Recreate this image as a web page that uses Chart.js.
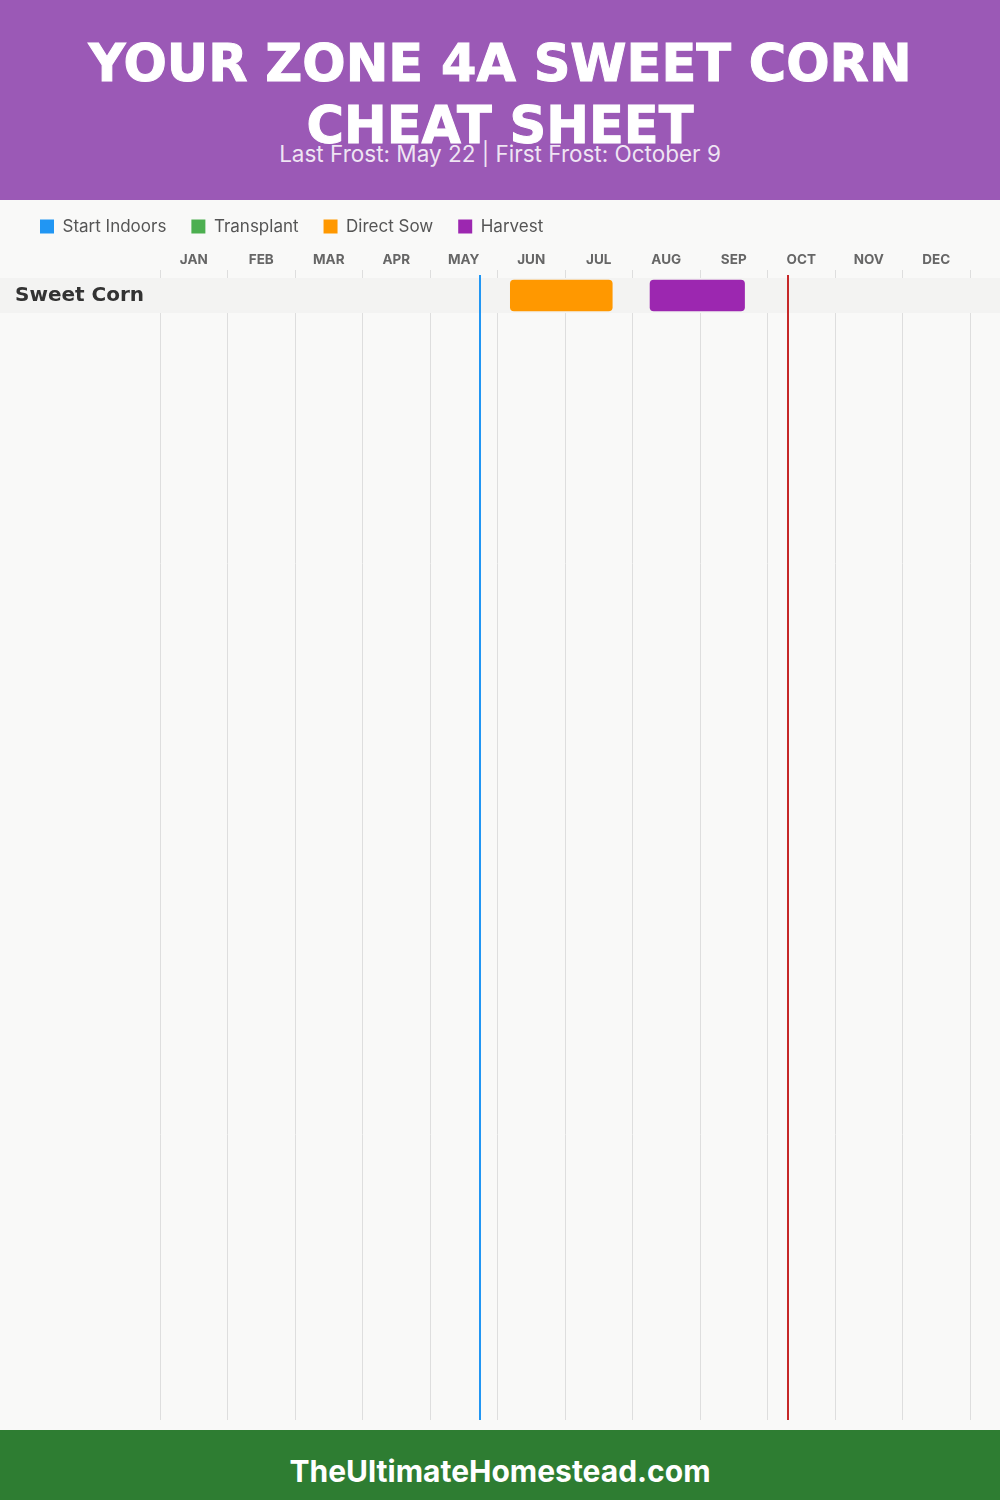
<!DOCTYPE html>
<html>
<head>
<meta charset="utf-8">
<script src="https://cdn.jsdelivr.net/npm/chart.js@4.4.1/dist/chart.umd.min.js"></script>
<style>
  html, body { margin:0; padding:0; }
  body { width:1000px; height:1500px; position:relative; background:#f9f9f8; overflow:hidden; font-family:"Inter", "DejaVu Sans", sans-serif; }
  #header { position:absolute; top:0; left:0; width:1000px; height:200px; background:#9b59b6; z-index:2; }
  #title { position:absolute; top:33px; left:0; width:1000px; text-align:center; color:#fff;
           font-family:"DejaVu Sans", sans-serif; font-weight:bold; font-size:51px; line-height:62px;
           -webkit-text-stroke:1px #fff; }
  #sub { position:absolute; top:141px; left:0; width:1000px; text-align:center; color:rgba(255,255,255,0.85);
         font-family:"Inter", sans-serif; font-size:22.5px; line-height:26px; }
  #wrap { position:absolute; top:193px; left:0; width:1000px; height:1237px; z-index:1; }
  #footer { position:absolute; top:1430px; left:0; width:1000px; height:70px; background:#2e7d32; color:#fff;
            text-align:center; font-family:"Inter", sans-serif; font-weight:bold; font-size:30px; line-height:82px; z-index:2; overflow:hidden; }
</style>
</head>
<body>
<div id="header">
  <div id="title">YOUR ZONE 4A SWEET CORN<br>CHEAT SHEET</div>
  <div id="sub">Last Frost: May 22 | First Frost: October 9</div>
</div>
<div id="wrap"><canvas id="c" width="1000" height="1237"></canvas></div>
<div id="footer">TheUltimateHomestead.com</div>
<script>
// ---- data (months measured from Jan 1 = 0 to Dec 31 = 12) ----
const MONTHS = ['JAN','FEB','MAR','APR','MAY','JUN','JUL','AUG','SEP','OCT','NOV','DEC'];
const CROPS = ['Sweet Corn'];
const SERIES_NAMES = ['Start Indoors','Transplant','Direct Sow','Harvest'];
const START_INDOORS = [null];
const TRANSPLANT = [null];
const DIRECT_SOW = [[5.19, 6.70]];
const HARVEST = [[7.26, 8.66]];
const LAST_FROST = 4.74;   // May 22
const FIRST_FROST = 9.30;  // October 9

const COLORS = ['#2196F3','#4CAF50','#FF9800','#9C27B0'];
const FONT = '"Inter", "DejaVu Sans", sans-serif';

function toPoints(arr) {
  return arr.map((r, i) => r ? { x: r, y: i + 0.5 } : null).filter(p => p);
}

const tickValues = [];
for (let i = 0; i <= MONTHS.length; i++) {
  tickValues.push(i);
  if (i < MONTHS.length) tickValues.push(i + 0.5);
}

const decorPlugin = {
  id: 'decor',
  beforeDatasetsDraw(chart) {
    const { ctx, scales: { x, y }, chartArea } = chart;
    ctx.save();
    CROPS.forEach((c, i) => {
      const t = y.getPixelForValue(i), b = y.getPixelForValue(i + 1);
      ctx.fillStyle = '#f3f3f2';
      ctx.fillRect(0, t, chart.width, b - t);
    });
    [[LAST_FROST, '#2196F3'], [FIRST_FROST, '#c62828']].forEach(([v, col]) => {
      const px = Math.round(x.getPixelForValue(v));
      ctx.strokeStyle = col;
      ctx.lineWidth = 2;
      ctx.beginPath();
      ctx.moveTo(px, chartArea.top - 3);
      ctx.lineTo(px, chartArea.bottom);
      ctx.stroke();
    });
    ctx.restore();
  }
};

const dataSets = [START_INDOORS, TRANSPLANT, DIRECT_SOW, HARVEST].map((arr, k) => ({
  label: SERIES_NAMES[k],
  data: toPoints(arr),
  backgroundColor: COLORS[k],
  borderWidth: 0,
  borderRadius: 4,
  borderSkipped: false,
  barThickness: 31,
  grouped: false
}));

new Chart(document.getElementById('c'), {
  type: 'bar',
  data: { datasets: dataSets },
  plugins: [decorPlugin],
  options: {
    indexAxis: 'y',
    responsive: false,
    animation: false,
    layout: { padding: { left: 15, right: 30, top: 0, bottom: 10 } },
    plugins: {
      tooltip: { enabled: false },
      legend: {
        position: 'top',
        align: 'start',
        labels: {
          boxWidth: 14, boxHeight: 14, padding: 25,
          color: '#555',
          font: { family: FONT, size: 17 }
        }
      }
    },
    scales: {
      x: {
        type: 'linear', position: 'top', min: 0, max: MONTHS.length,
        afterBuildTicks: s => { s.ticks = tickValues.map(v => ({ value: v })); },
        afterFit: s => { s.height = 33; },
        ticks: {
          autoSkip: false, maxRotation: 0, padding: 2,
          color: '#666',
          font: { family: FONT, size: 13.5, weight: 'bold' },
          callback: v => Number.isInteger(v) ? '' : MONTHS[Math.floor(v)]
        },
        grid: {
          color: c => (c.tick && Number.isInteger(c.tick.value)) ? '#dedede' : 'rgba(0,0,0,0)',
          tickLength: 8,
          lineWidth: 1
        },
        border: { display: false }
      },
      y: {
        type: 'linear', reverse: true, min: 0, max: 32.63,
        offset: false,
        bounds: 'data',
        afterBuildTicks: s => { s.ticks = CROPS.map((c, i) => ({ value: i + 0.5 })); },
        afterFit: s => { s.width = 145; s.paddingTop = 0; s.paddingBottom = 0; },
        ticks: {
          z: 1,
          crossAlign: 'far',
          color: '#333',
          font: { family: '"DejaVu Sans", sans-serif', size: 20, weight: 'bold' },
          callback: (v, i) => CROPS[i]
        },
        grid: { display: false, offset: false },
        border: { display: false }
      }
    }
  }
});
</script>
</body>
</html>
